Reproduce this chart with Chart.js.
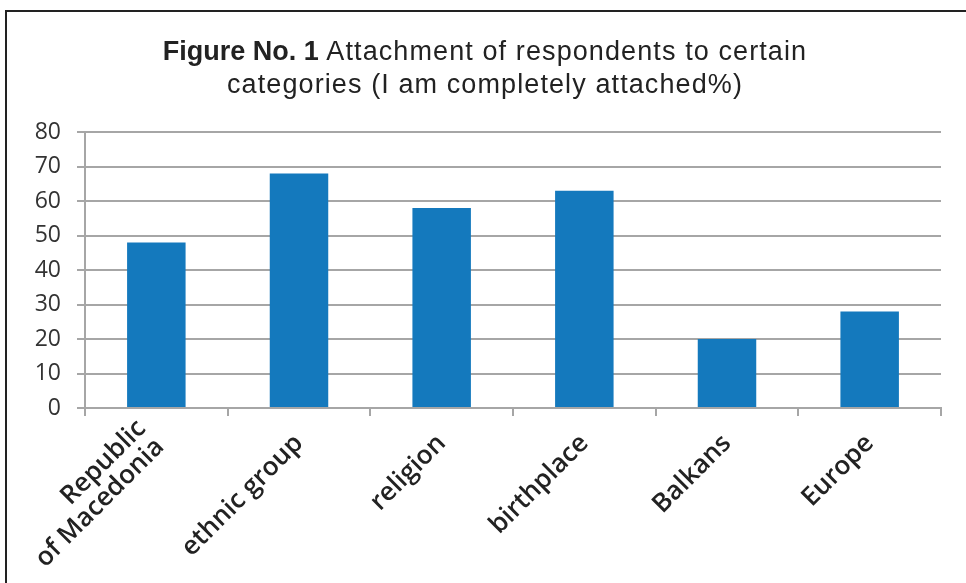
<!DOCTYPE html>
<html>
<head>
<meta charset="utf-8">
<script src="https://cdn.jsdelivr.net/npm/chart.js@4.4.1/dist/chart.umd.min.js"></script>
<style>
  html, body { margin: 0; padding: 0; background: #fff; }
  #wrap { position: relative; width: 966px; height: 583px; }
</style>
</head>
<body>
<div id="wrap"><canvas id="attachChart" width="966" height="583"></canvas></div>
<script>
var categories = [["Republic", "of Macedonia"], "ethnic group", "religion", "birthplace", "Balkans", "Europe"];
var attachedPct = [48, 68, 58, 63, 20, 28];
var yTicks = [0, 10, 20, 30, 40, 50, 60, 70, 80];

var barColor = "#1479bd";
var gridColor = "#a6a6a6";

// frame lines and the two-part title (bold lead + regular text)
var titlePlugin = {
  id: "figTitle",
  beforeDraw: function(chart) {
    var ctx = chart.ctx;
    ctx.save();
    ctx.fillStyle = "#fff";
    ctx.fillRect(0, 0, chart.width, chart.height);
    ctx.strokeStyle = "#222";
    ctx.lineWidth = 2;
    ctx.beginPath();
    ctx.moveTo(6, chart.height);
    ctx.lineTo(6, 11);
    ctx.lineTo(chart.width, 11);
    ctx.stroke();
    ctx.restore();

    // pull two-line category labels up a little so they sit around the tick
    var items = chart.scales.x.getLabelItems();
    items.forEach(function(it) {
      if (Array.isArray(it.label) && it.label.length > 1) {
        it.textOffset = -it.font.lineHeight * 0.3;
      }
    });
  },
  afterDraw: function(chart) {
    var ctx = chart.ctx;
    var cx = 485;
    var fam = "'Liberation Sans', Arial, sans-serif";
    ctx.save();
    ctx.fillStyle = "#222";
    ctx.textBaseline = "alphabetic";
    ctx.textAlign = "left";
    var boldPart = "Figure No. 1 ";
    var restPart = "Attachment of respondents to certain";
    ctx.font = "bold 27px " + fam;
    ctx.letterSpacing = "0px";
    var w1 = ctx.measureText(boldPart).width;
    ctx.font = "27px " + fam;
    ctx.letterSpacing = "1.1px";
    var w2 = ctx.measureText(restPart).width;
    var x0 = cx - (w1 + w2) / 2;
    ctx.font = "bold 27px " + fam;
    ctx.letterSpacing = "0px";
    ctx.fillText(boldPart, x0, 60);
    ctx.font = "27px " + fam;
    ctx.letterSpacing = "1.1px";
    ctx.fillText(restPart, x0 + w1, 60);
    var line2 = "categories (I am completely attached%)";
    var w3 = ctx.measureText(line2).width;
    ctx.fillText(line2, cx - w3 / 2, 93);
    ctx.restore();
  }
};

new Chart("attachChart", {
  type: "bar",
  data: {
    labels: categories,
    datasets: [{
      data: attachedPct,
      backgroundColor: barColor,
      categoryPercentage: 1,
      barPercentage: 0.41
    }]
  },
  options: {
    responsive: false,
    animation: false,
    layout: {
      padding: { top: 132, right: 25, left: 0, bottom: 0 }
    },
    plugins: {
      legend: { display: false },
      tooltip: { enabled: false }
    },
    scales: {
      x: {
        grid: {
          drawOnChartArea: false,
          drawTicks: true,
          tickLength: 8,
          color: gridColor,
          lineWidth: 2
        },
        border: { color: gridColor, width: 2 },
        ticks: {
          color: "#222",
          font: { family: "'Open Sans'", size: 26, weight: 600, lineHeight: 1.0 },
          minRotation: 45,
          maxRotation: 45,
          padding: 14
        },
        afterFit: function(scale) { scale.height = 175; }
      },
      y: {
        min: 0,
        max: 80,
        afterBuildTicks: function(scale) {
          scale.ticks = yTicks.map(function(v) { return { value: v }; });
        },
        grid: {
          color: gridColor,
          lineWidth: 2,
          tickLength: 8
        },
        border: { color: gridColor, width: 2 },
        ticks: {
          color: "#333",
          font: { family: "'Open Sans'", size: 23 },
          padding: 16
        },
        afterFit: function(scale) { scale.width = 85; }
      }
    }
  },
  plugins: [titlePlugin]
});
</script>
</body>
</html>
